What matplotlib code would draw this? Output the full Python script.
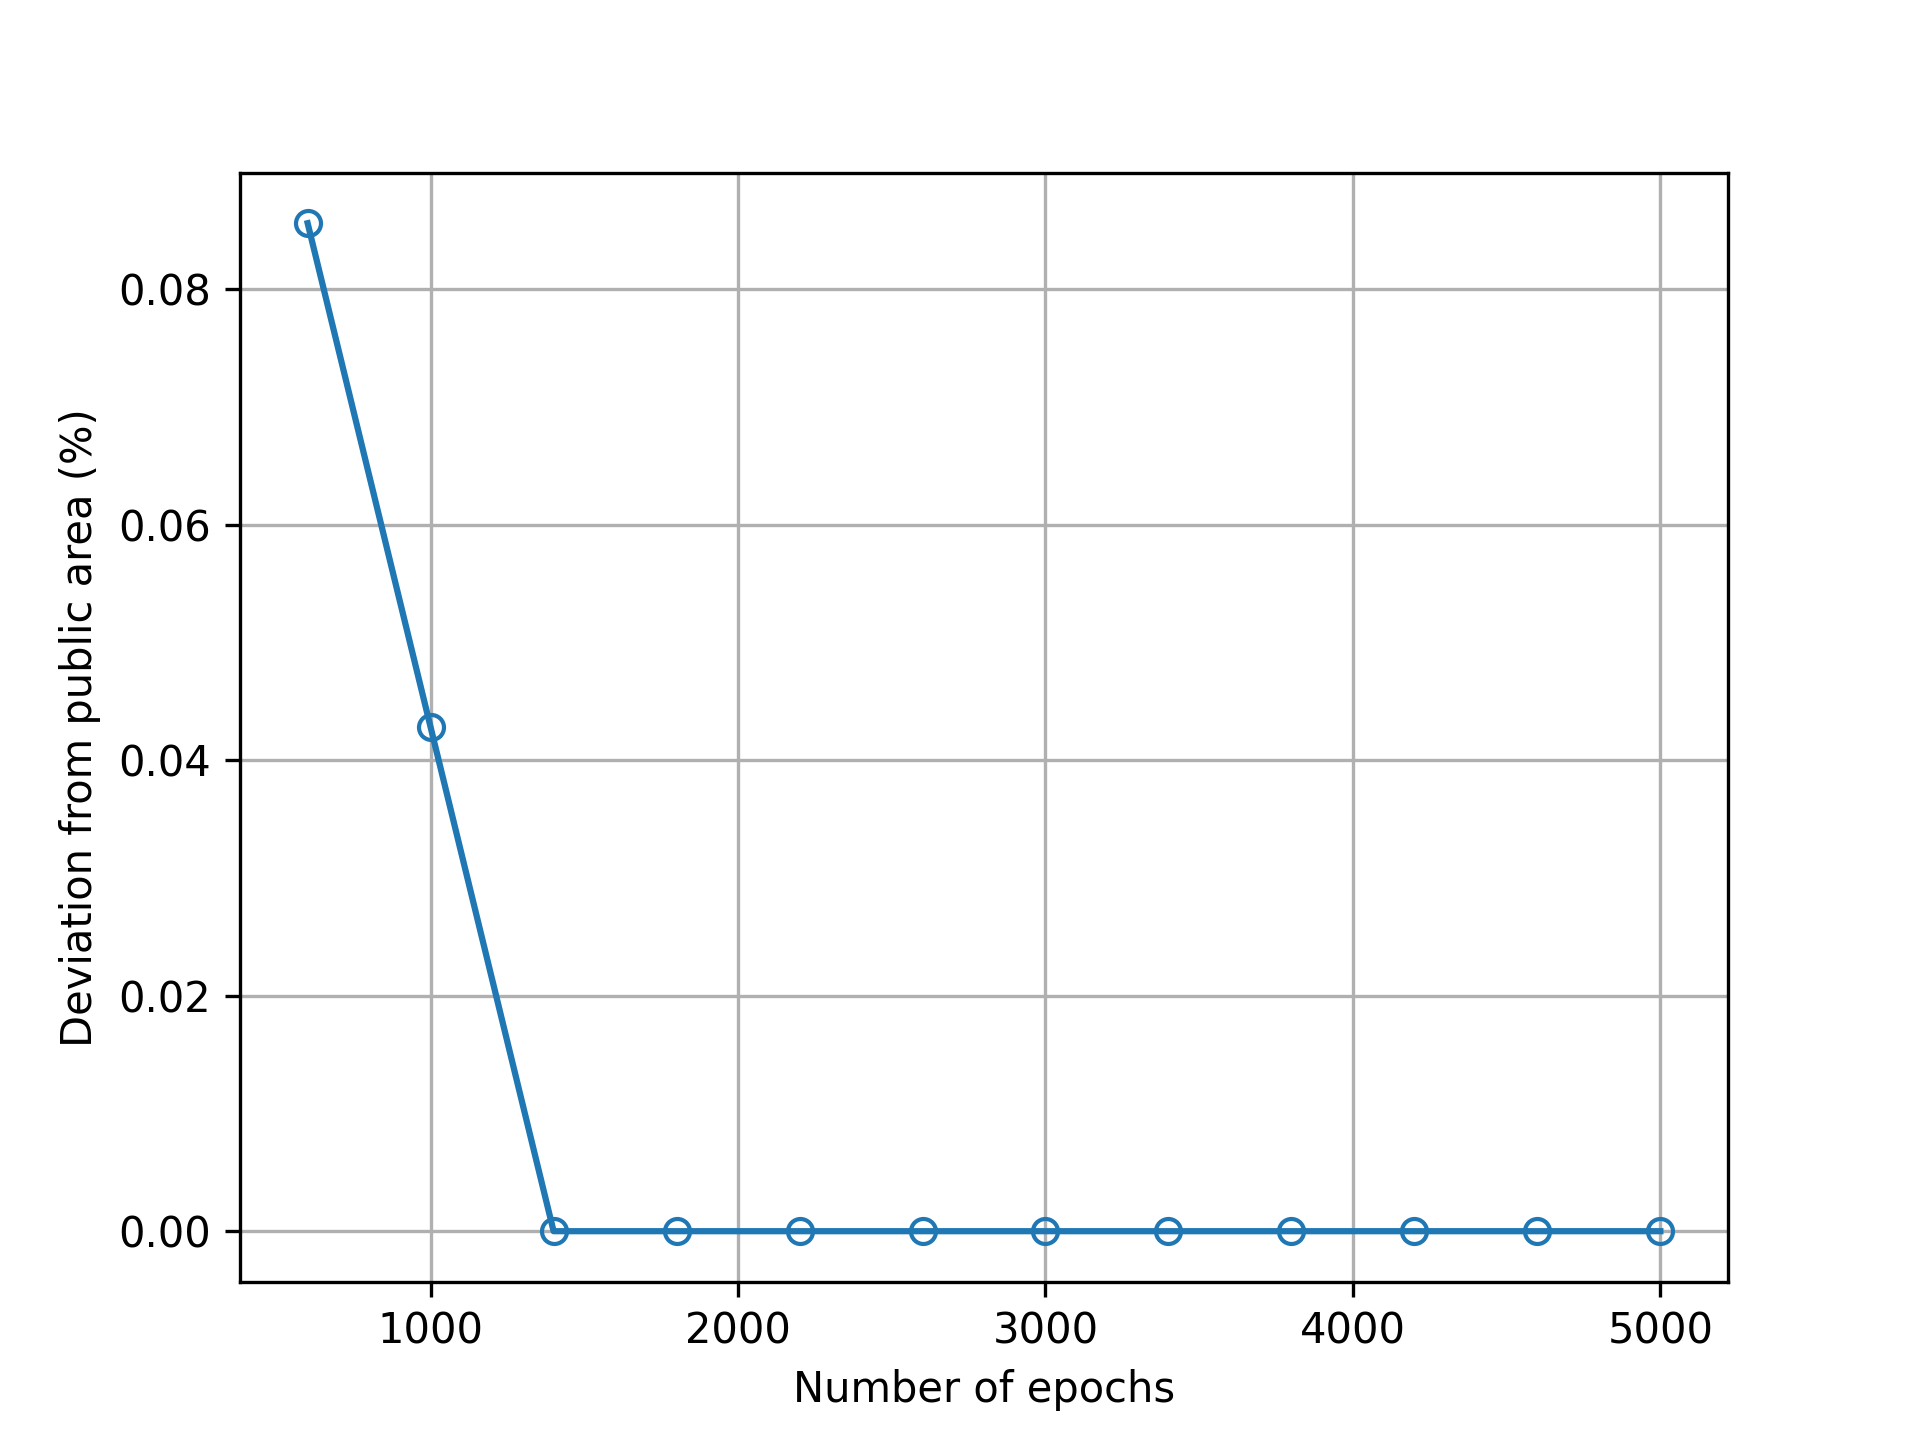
import matplotlib
matplotlib.use("Agg")
import matplotlib.pyplot as plt

# epochs vs deviation (%)
epochs = [600, 1000, 1400, 1800, 2200, 2600, 3000, 3400, 3800, 4200, 4600, 5000]
deviation = [0.0856, 0.0428, 0.0, 0.0, 0.0, 0.0, 0.0, 0.0, 0.0, 0.0, 0.0, 0.0]

fig, ax = plt.subplots(figsize=(6.4, 4.8))
ax.plot(epochs, deviation, marker="o", fillstyle="none")
ax.set_xlabel("Number of epochs")
ax.set_ylabel("Deviation from public area (%)")
ax.grid(True)

fig.savefig("out.png", dpi=300)
